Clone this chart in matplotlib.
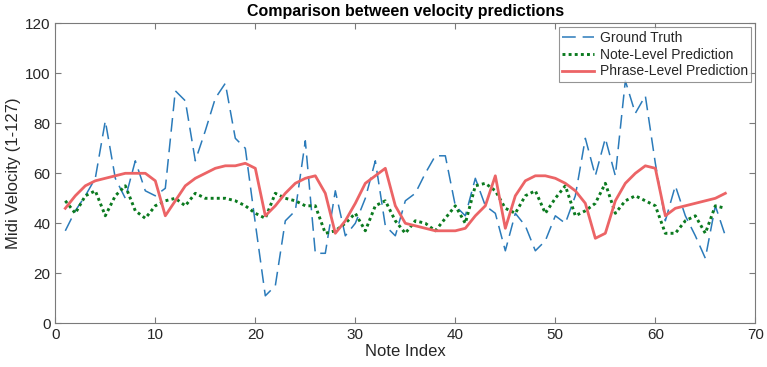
import numpy as np
import matplotlib
matplotlib.use("Agg")
from matplotlib import pyplot as plt

# note index 1..67
note_idx = np.arange(1, 68)

ground_truth = [37, 45, 51, 58, 81, 58, 50, 65, 53, 51,
                54, 93, 89, 65, 77, 90, 96, 74, 70, 40,
                11, 15, 41, 45, 73, 28, 28, 53, 35, 40,
                50, 65, 39, 35, 49, 52, 60, 67, 67, 47,
                43, 58, 47, 44, 29, 44, 39, 29, 33, 43,
                40, 51, 74, 59, 74, 59, 97, 84, 91, 64,
                41, 55, 43, 35, 26, 47, 35]

note_level = [49, 44, 51, 53, 43, 51, 55, 45, 42, 47,
              49, 50, 47, 52, 50, 50, 50, 49, 47, 44,
              42, 52, 50, 49, 47, 47, 36, 37, 40, 44,
              37, 47, 49, 41, 36, 41, 40, 37, 42, 47,
              40, 55, 56, 53, 46, 44, 51, 53, 44, 50,
              55, 43, 45, 48, 56, 44, 49, 51, 49, 47,
              36, 36, 41, 43, 36, 47, 46]

phrase_level = [46, 51, 55, 57, 58, 59, 60, 60, 60, 57,
                43, 49, 55, 58, 60, 62, 63, 63, 64, 62,
                43, 47, 52, 56, 58, 59, 52, 36, 41, 48,
                56, 59, 62, 47, 40, 39, 38, 37, 37, 37,
                38, 43, 47, 59, 38, 51, 57, 59, 59, 58,
                56, 53, 48, 34, 36, 49, 56, 60, 63, 62,
                43, 46, 47, 48, 49, 50, 52]

plt.rcParams['font.family'] = ['Liberation Sans', 'DejaVu Sans']
txt = '#262626'
axc = '#7a7a7a'

fig = plt.figure(figsize=(7.67, 3.67), dpi=100)
ax = fig.add_axes([0.0721, 0.1191, 0.9127, 0.8174])

ax.plot(note_idx, ground_truth, color='#2b7bba', lw=1.1, dashes=(9, 4.5),
        label='Ground Truth')
ax.plot(note_idx, note_level, color='#0b7a1f', lw=2.1, linestyle=(0, (1, 1.1)),
        label='Note-Level Prediction')
ax.plot(note_idx, phrase_level, color='#ec6466', lw=2.0,
        label='Phrase-Level Prediction')

ax.set_xlim(0, 70)
ax.set_ylim(0, 120)
ax.set_xticks(np.arange(0, 71, 10))
ax.set_yticks(np.arange(0, 121, 20))
ax.tick_params(direction='in', top=True, right=True, length=4, width=0.8,
               colors=axc, labelcolor=txt, labelsize=11)
for s in ax.spines.values():
    s.set_color(axc)
    s.set_linewidth(0.8)

ax.set_xlabel('Note Index', fontsize=12, color=txt, labelpad=1)
ax.set_ylabel('Midi Velocity (1-127)', fontsize=12, color=txt, labelpad=3)
ax.set_title('Comparison between velocity predictions', fontsize=11.5,
             fontweight='bold', color='black', pad=5)

leg = ax.legend(loc='upper right', fontsize=10, frameon=True, fancybox=False,
                borderaxespad=0.3, handlelength=2.3, labelspacing=0.2,
                borderpad=0.25, handletextpad=0.4)
leg.get_frame().set_edgecolor(axc)
leg.get_frame().set_linewidth(0.8)
for t in leg.get_texts():
    t.set_color(txt)

fig.savefig('out.png', dpi=100)
